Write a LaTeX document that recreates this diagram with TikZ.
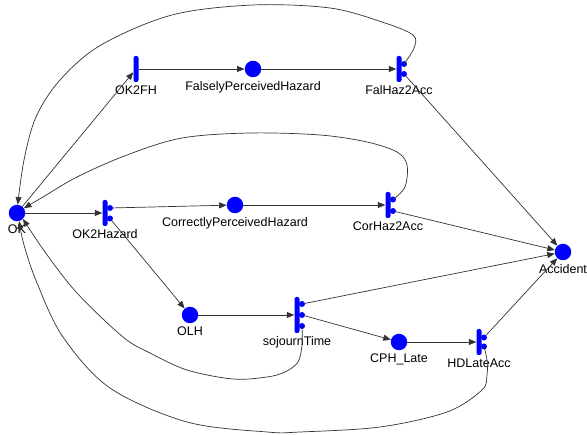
\documentclass[tikz,border=0pt]{standalone}
\usepackage{fontspec}
\setmainfont{Liberation Sans}
\usetikzlibrary{arrows.meta, positioning}

\begin{document}
\begin{tikzpicture}[
  x=1pt, y=-1pt, on grid,
  every node/.style={font=\fontsize{12.5}{15}\selectfont},
  place/.style={circle, fill=blue, minimum size=16.5pt, inner sep=0pt, label distance=3.5pt},
  trans/.style={rectangle, fill=blue, rounded corners=2pt, minimum width=5pt, minimum height=26pt, inner sep=0pt, label distance=4.5pt},
  dot/.style={circle, fill=blue, minimum size=6pt, inner sep=0pt},
  arc/.style={draw=black!80, line width=0.7pt, -{Triangle[length=7.5pt,width=6pt]}}
]
  \useasboundingbox (0,0) rectangle (587,435);
  % places and transitions
  \node[place, label=below:OK] (ok) at (17,213) {};
  \node[trans, label=below:OK2FH, above right=144pt and 119pt of ok] (ok2fh) {};
  \node[place, label=below:FalselyPerceivedHazard, right=117pt of ok2fh] (fph) {};
  \node[trans, label=below:FalHaz2Acc, right=146pt of fph] (falhaz2acc) {};
  \node[trans, label=below:OK2Hazard, right=88pt of ok] (ok2haz) {};
  \node[place, label=below:CorrectlyPerceivedHazard, above right=8pt and 130pt of ok2haz] (cph) {};
  \node[trans, label=below:CorHaz2Acc, right=153pt of cph] (corhaz2acc) {};
  \node[place, label=below:OLH, below right=102pt and 85pt of ok2haz] (olh) {};
  \node[trans, minimum height=36pt, label=below:sojournTime, right=107pt of olh] (sojourn) {};
  \node[place, label=below:CPH\_Late, below right=27pt and 102pt of sojourn] (cphlate) {};
  \node[trans, label=below:HDLateAcc, right=80pt of cphlate] (hdlateacc) {};
  \node[place, label=below:Accident, above right=90pt and 84pt of hdlateacc] (acc) {};

  % output dots
  \node[dot] (falhaz2acc-1) at ([xshift=5pt,yshift=5pt]falhaz2acc.center) {};
  \node[dot] (falhaz2acc-2) at ([xshift=5pt,yshift=-5pt]falhaz2acc.center) {};
  \node[dot] (ok2haz-1) at ([xshift=5pt,yshift=5pt]ok2haz.center) {};
  \node[dot] (ok2haz-2) at ([xshift=5pt,yshift=-5.5pt]ok2haz.center) {};
  \node[dot] (corhaz2acc-1) at ([xshift=5pt,yshift=5.5pt]corhaz2acc.center) {};
  \node[dot] (corhaz2acc-2) at ([xshift=5pt,yshift=-6pt]corhaz2acc.center) {};
  \node[dot] (sojourn-1) at ([xshift=5pt,yshift=11pt]sojourn.center) {};
  \node[dot] (sojourn-2) at ([xshift=5pt]sojourn.center) {};
  \node[dot] (sojourn-3) at ([xshift=5pt,yshift=-11pt]sojourn.center) {};
  \node[dot] (hdlateacc-1) at ([xshift=5pt,yshift=4.5pt]hdlateacc.center) {};
  \node[dot] (hdlateacc-2) at ([xshift=5pt,yshift=-4.5pt]hdlateacc.center) {};

  % arcs
  \draw[arc] (ok) -- (ok2fh);
  \draw[arc] (ok2fh) -- (fph);
  \draw[arc] (fph) -- (falhaz2acc);
  \draw[arc] (falhaz2acc-2) -- (acc);
  \draw[arc] (ok) -- (ok2haz);
  \draw[arc] (ok2haz-1) -- (cph);
  \draw[arc] (ok2haz-2) -- (olh);
  \draw[arc] (cph) -- (corhaz2acc);
  \draw[arc] (corhaz2acc-2) -- (acc);
  \draw[arc] (olh) -- (sojourn);
  \draw[arc] (sojourn-1) -- (acc);
  \draw[arc] (sojourn-2) -- (cphlate);
  \draw[arc] (cphlate) -- (hdlateacc);
  \draw[arc] (hdlateacc-1) -- (acc);

  % back to OK
  \draw[arc] plot[smooth, tension=0.55] coordinates {(falhaz2acc-1) (414,48) (413,35) (382,22) (330,8) (253,5) (172,15) (101,45) (60,80) (36,117) (24,160) (ok.85)};
  \draw[arc] plot[smooth, tension=0.55] coordinates {(corhaz2acc-1) (405,187) (407,165) (397,152) (367,142) (320,135) (250,133) (182,138) (127,155) (77,177) (43,197) (ok.35)};
  \draw[arc] plot[smooth, tension=0.55] coordinates {(sojourn-3) (302,345) (298,362) (285,372) (267,377) (233,379) (187,370) (150,353) (123,337) (77,293) (45,252) (ok.-45)};
  \draw[arc] plot[smooth, tension=0.55] coordinates {(hdlateacc-2) (487,360) (487,375) (482,390) (447,412) (380,427) (300,432) (267,432) (187,422) (110,388) (63,337) (37,283) (24,245) (ok.-75)};
\end{tikzpicture}
\end{document}
